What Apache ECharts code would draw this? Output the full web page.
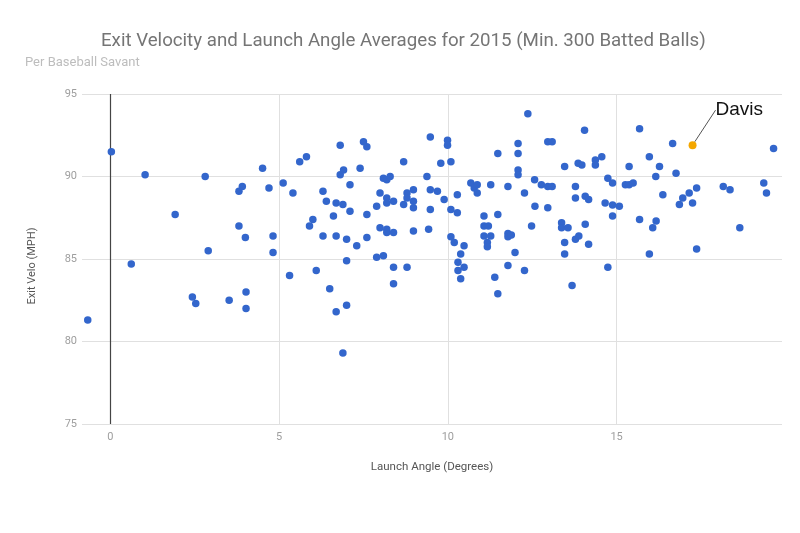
<!DOCTYPE html>
<html>
<head>
<meta charset="utf-8">
<script src="https://cdn.jsdelivr.net/npm/echarts@6/dist/echarts.min.js"></script>
<style>
  html, body { margin: 0; padding: 0; background: #fff; }
  #chart { width: 800px; height: 533px; }
</style>
</head>
<body>
<div id="chart"></div>
<script>
// Launch angle (degrees), exit velocity (mph) per player
const launchAngle = [
  -0.67, 0.03, 0.62, 1.03, 1.92, 2.43, 2.53, 2.81, 2.90, 3.52, 3.81, 3.91, 3.81, 4.00, 4.02, 4.02,
  4.51, 4.70, 4.82, 4.82, 5.12, 5.31, 5.41, 5.61, 5.81, 5.90, 6.00, 6.10, 6.30, 6.30, 6.40, 6.50,
  6.61, 6.69, 6.69, 6.69, 6.81, 6.81, 6.89, 6.89, 6.91, 7.00, 7.00, 7.00, 7.10, 7.10, 7.30, 7.40,
  7.50, 7.60, 7.60, 7.60, 7.89, 7.89, 7.99, 7.99, 8.09, 8.09, 8.19, 8.19, 8.19, 8.19, 8.19, 8.29,
  8.39, 8.39, 8.39, 8.39, 8.69, 8.69, 8.79, 8.79, 8.79, 8.98, 8.98, 8.98, 8.98, 9.38, 9.43, 9.48,
  9.48, 9.48, 9.69, 9.79, 9.89, 9.99, 9.99, 10.09, 10.09, 10.09, 10.19, 10.28, 10.28, 10.30, 10.30, 10.38,
  10.38, 10.48, 10.48, 10.68, 10.78, 10.87, 10.87, 11.07, 11.07, 11.07, 11.17, 11.17, 11.20, 11.27, 11.27, 11.39,
  11.48, 11.48, 11.48, 11.78, 11.78, 11.78, 11.78, 11.88, 11.99, 12.08, 12.08, 12.08, 12.08, 12.27, 12.27, 12.37,
  12.48, 12.57, 12.58, 12.77, 12.96, 13.09, 12.96, 13.09, 12.96, 13.37, 13.37, 13.46, 13.46, 13.46, 13.56, 13.68,
  13.78, 13.78, 13.78, 13.86, 13.88, 13.97, 14.05, 14.07, 14.07, 14.17, 14.17, 14.37, 14.37, 14.56, 14.74, 14.66,
  14.74, 14.88, 14.88, 15.08, 14.88, 15.26, 15.37, 15.49, 15.37, 15.68, 15.68, 15.97, 15.97, 16.07, 16.16, 16.17,
  16.27, 16.37, 16.66, 16.76, 16.86, 16.96, 17.15, 17.25, 17.37, 17.37, 18.16, 18.36, 18.65, 19.36, 19.44, 19.65
];
const exitVelo = [
  81.3, 91.5, 84.7, 90.1, 87.7, 82.7, 82.3, 90.0, 85.5, 82.5, 89.1, 89.4, 87.0, 86.3, 83.0, 82.0,
  90.5, 89.3, 86.4, 85.4, 89.6, 84.0, 89.0, 90.9, 91.2, 87.0, 87.4, 84.3, 89.1, 86.4, 88.5, 83.2,
  87.6, 88.4, 86.4, 81.8, 91.9, 90.1, 88.3, 79.3, 90.4, 86.2, 84.9, 82.2, 89.5, 87.9, 85.8, 90.5,
  92.1, 91.8, 87.7, 86.3, 88.2, 85.1, 89.0, 86.9, 89.9, 85.2, 89.8, 88.7, 88.4, 86.8, 86.6, 90.0,
  88.5, 86.6, 84.5, 83.5, 90.9, 88.3, 89.0, 88.7, 84.5, 89.2, 88.5, 88.1, 86.7, 90.0, 86.8, 92.4,
  89.2, 88.0, 89.1, 90.8, 88.6, 92.2, 91.9, 90.9, 88.0, 86.35, 86.0, 88.9, 87.8, 84.8, 84.3, 85.3,
  83.8, 85.8, 84.5, 89.6, 89.3, 89.5, 89.0, 87.6, 87.0, 86.4, 86.0, 85.75, 87.0, 89.5, 86.4, 83.9,
  91.4, 87.7, 82.9, 89.4, 86.55, 86.35, 84.6, 86.45, 85.4, 92.0, 91.4, 90.4, 90.1, 89.0, 84.3, 93.8,
  87.0, 89.8, 88.2, 89.5, 92.1, 92.1, 89.4, 89.4, 88.1, 87.2, 86.9, 90.6, 86.0, 85.3, 86.9, 83.4,
  89.4, 88.7, 86.2, 90.8, 86.4, 90.7, 92.8, 88.8, 87.1, 88.6, 85.9, 91.0, 90.7, 91.2, 89.9, 88.4,
  84.5, 89.6, 88.27, 88.2, 87.6, 89.5, 89.5, 89.6, 90.6, 92.9, 87.4, 91.2, 85.3, 86.9, 90.0, 87.3,
  90.6, 88.9, 92.0, 90.2, 88.3, 88.7, 89.0, 88.4, 89.3, 85.6, 89.4, 89.2, 86.9, 89.6, 89.0, 91.7
];
const highlightName = ['Davis'];
const highlightAngle = [17.25];
const highlightVelo = [91.9];
const yTicks = [75, 80, 85, 90, 95];

const chart = echarts.init(document.getElementById('chart'));
const pts = launchAngle.map((x, i) => [x, exitVelo[i]]);
const hl = highlightAngle.map((x, i) => ({ name: highlightName[i], value: [x, highlightVelo[i]] }));

chart.setOption({
  animation: false,
  backgroundColor: '#ffffff',
  title: [
    {
      text: 'Exit Velocity and Launch Angle Averages for 2015 (Min. 300 Batted Balls)',
      left: 101, top: 32, padding: 0,
      textStyle: { fontFamily: 'Roboto', fontWeight: 'normal', fontSize: 18.7, color: '#757575' }
    },
    {
      text: 'Per Baseball Savant',
      left: 25, top: 56, padding: 0,
      textStyle: { fontFamily: 'Roboto', fontWeight: 'normal', fontSize: 13, color: '#bdbdbd' }
    }
  ],
  grid: { left: 82, right: 18, top: 94, bottom: 109, containLabel: false },
  xAxis: {
    type: 'value',
    min: -0.84, max: 19.9,
    splitNumber: 4,
    name: 'Launch Angle (Degrees)',
    nameLocation: 'middle', nameGap: 37,
    nameTextStyle: { fontFamily: 'Roboto', fontSize: 11.5, color: '#555' },
    axisLine: { show: false },
    axisTick: { show: false },
    axisLabel: { margin: 8, fontFamily: 'Roboto', fontSize: 11, color: '#9e9e9e', showMinLabel: false, showMaxLabel: false },
    splitLine: { show: true, showMinLine: false, showMaxLine: false, lineStyle: { color: '#e0e0e0', width: 1 } }
  },
  yAxis: {
    type: 'value',
    min: yTicks[0], max: yTicks[yTicks.length - 1], interval: 5,
    name: 'Exit Velo (MPH)',
    nameLocation: 'middle', nameGap: 44, nameRotate: 90,
    nameTextStyle: { fontFamily: 'Roboto', fontSize: 11, color: '#555', padding: [0, 14, 0, 0] },
    axisLine: { show: false },
    axisTick: { show: false },
    axisLabel: { margin: 5, fontFamily: 'Roboto', fontSize: 11, color: '#9e9e9e' },
    splitLine: { show: true, lineStyle: { color: '#e0e0e0', width: 1 } }
  },
  series: [
    {
      type: 'scatter',
      data: pts,
      symbolSize: 7.5,
      itemStyle: { color: '#3366cc', opacity: 1 },
      z: 3,
      markLine: {
        silent: true,
        symbol: ['none', 'none'],
        label: { show: false },
        lineStyle: { color: '#444', type: 'solid', width: 1.2 },
        data: [{ xAxis: 0 }],
        z: 2
      }
    },
    {
      type: 'scatter',
      data: hl,
      symbolSize: 8,
      itemStyle: { color: '#f4a700', opacity: 1 },
      z: 4,
      label: {
        show: true,
        position: 'right',
        distance: 5,
        formatter: '{b}',
        fontFamily: 'Liberation Sans',
        fontSize: 19,
        color: '#111'
      },
      labelLayout: { dx: 14, dy: -35 },
      labelLine: { show: true, lineStyle: { color: '#555', width: 1 } }
    }
  ]
});
</script>
</body>
</html>
